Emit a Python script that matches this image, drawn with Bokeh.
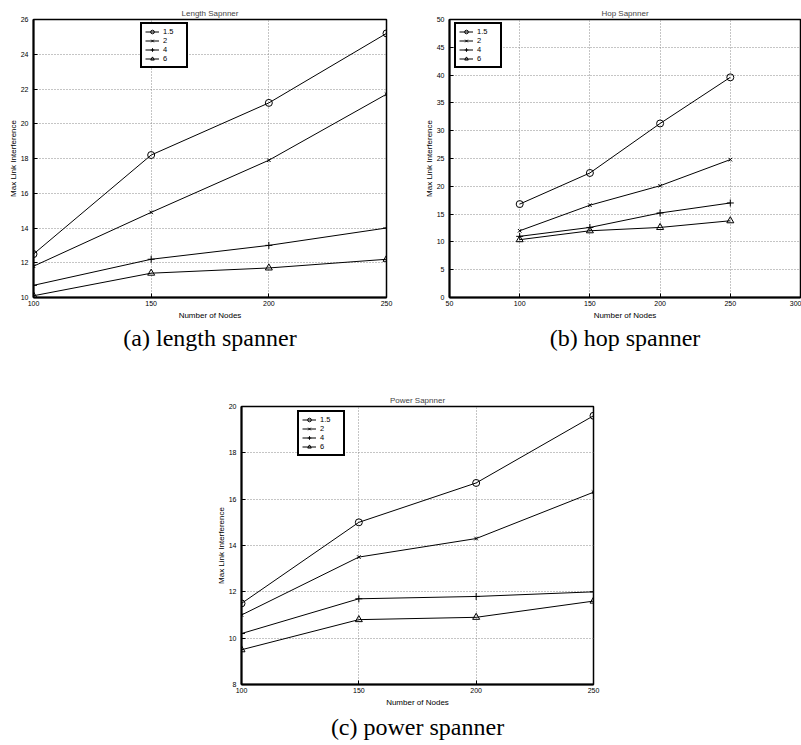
from bokeh.plotting import figure
from bokeh.models import (Range1d, FixedTicker, Legend, LegendItem, Title)
from bokeh.layouts import column, row
from bokeh.embed import file_html
from bokeh.resources import INLINE

# ---------------- data ----------------
nodes = [100, 150, 200, 250]
series_labels = ["1.5", "2", "4", "6"]

length_15 = [12.5, 18.2, 21.2, 25.2]
length_2 = [11.8, 14.9, 17.9, 21.7]
length_4 = [10.7, 12.2, 13.0, 14.0]
length_6 = [10.1, 11.4, 11.7, 12.2]

hop_15 = [16.8, 22.4, 31.3, 39.6]
hop_2 = [12.0, 16.6, 20.1, 24.8]
hop_4 = [11.0, 12.6, 15.2, 17.0]
hop_6 = [10.4, 12.0, 12.6, 13.8]

power_15 = [11.5, 15.0, 16.7, 19.6]
power_2 = [11.0, 13.5, 14.3, 16.3]
power_4 = [10.2, 11.7, 11.8, 12.0]
power_6 = [9.5, 10.8, 10.9, 11.6]

length_xticks = [100, 150, 200, 250]
length_yticks = [10, 12, 14, 16, 18, 20, 22, 24, 26]
hop_xticks = [50, 100, 150, 200, 250, 300]
hop_yticks = [0, 5, 10, 15, 20, 25, 30, 35, 40, 45, 50]
power_xticks = [100, 150, 200, 250]
power_yticks = [8, 10, 12, 14, 16, 18, 20]

# ---------------- styling ----------------
FONT = "Liberation Sans"
SERIF = "Liberation Serif"
MARKERS = [("circle", 7), ("x", 5), ("cross", 7), ("triangle", 7)]


def make_panel(title, caption, ys, xticks, yticks, width, height,
               mb_left, mb_right, mb_top, mb_bottom, legend_loc, cap_standoff):
    p = figure(width=width, height=height, output_backend="svg",
               toolbar_location=None,
               x_range=Range1d(xticks[0], xticks[-1]),
               y_range=Range1d(yticks[0], yticks[-1]),
               min_border_left=mb_left, min_border_right=mb_right,
               min_border_top=mb_top, min_border_bottom=mb_bottom)
    p.title.text = title
    p.title.align = "center"
    p.title.text_font = FONT
    p.title.text_font_size = "8px"
    p.title.text_font_style = "normal"
    p.title.standoff = 3

    p.background_fill_color = "white"
    p.border_fill_color = "white"
    p.outline_line_color = "black"
    p.outline_line_width = 1.5
    p.outline_line_alpha = 1.0

    p.xaxis.ticker = FixedTicker(ticks=xticks)
    p.yaxis.ticker = FixedTicker(ticks=yticks)
    p.xaxis.axis_label = "Number of Nodes"
    p.yaxis.axis_label = "Max Link Interference"
    for ax in (p.xaxis, p.yaxis):
        ax.axis_label_text_font = FONT
        ax.axis_label_text_font_size = "8px"
        ax.axis_label_text_font_style = "normal"
        ax.axis_label_text_color = "black"
        ax.major_label_text_font = FONT
        ax.major_label_text_font_size = "7px"
        ax.major_label_text_color = "black"
        ax.axis_line_color = "black"
        ax.axis_line_width = 2
        ax.major_tick_in = 4
        ax.major_tick_out = 0
        ax.major_tick_line_color = "black"
        ax.minor_tick_line_color = None
    p.xaxis.axis_label_standoff = 2
    p.yaxis.axis_label_standoff = 0
    p.xaxis.major_label_standoff = 3
    p.yaxis.major_label_standoff = 5

    p.grid.grid_line_color = "#8a8a8a"
    p.grid.grid_line_dash = "1 2"
    p.grid.grid_line_width = 1

    items = []
    for lab, yv, (mk, sz) in zip(series_labels, ys, MARKERS):
        lr = p.line(nodes, yv, line_color="black", line_width=1)
        sr = p.scatter(nodes, yv, marker=mk, size=sz, line_color="black",
                       fill_color="white", fill_alpha=0.0, line_width=1)
        items.append(LegendItem(label=lab, renderers=[lr, sr]))

    leg = Legend(items=items, location=legend_loc, margin=0, padding=3,
                 spacing=0, glyph_width=14, glyph_height=9, label_height=9,
                 label_standoff=4, label_text_font=FONT,
                 label_text_font_size="7.5px", label_text_color="black",
                 border_line_color="black", border_line_width=2,
                 border_line_alpha=1.0,
                 background_fill_color="white", background_fill_alpha=1.0)
    p.add_layout(leg)

    cap = Title(text=caption, align="center", text_font=SERIF,
                text_font_size="24px", text_font_style="normal",
                text_color="black", standoff=cap_standoff)
    p.add_layout(cap, "below")
    return p


pa = make_panel("Length Sapnner", "(a) length spanner",
                [length_15, length_2, length_4, length_6],
                length_xticks, length_yticks,
                width=415, height=363, mb_left=33, mb_right=29,
                mb_top=19, mb_bottom=66, legend_loc=(107, 229), cap_standoff=1)

pb = make_panel("Hop Sapnner", "(b) hop spanner",
                [hop_15, hop_2, hop_4, hop_6],
                hop_xticks, hop_yticks,
                width=386, height=363, mb_left=34, mb_right=1,
                mb_top=19, mb_bottom=66, legend_loc=(5, 229), cap_standoff=1)

pc = make_panel("Power Sapnner", "(c) power spanner",
                [power_15, power_2, power_4, power_6],
                power_xticks, power_yticks,
                width=625, height=382, mb_left=241, mb_right=32,
                mb_top=43, mb_bottom=61, legend_loc=(56, 228), cap_standoff=5)

layout = column(row(pa, pb, spacing=0), pc, spacing=0)

open("out.html", "w").write(file_html(layout, INLINE))
